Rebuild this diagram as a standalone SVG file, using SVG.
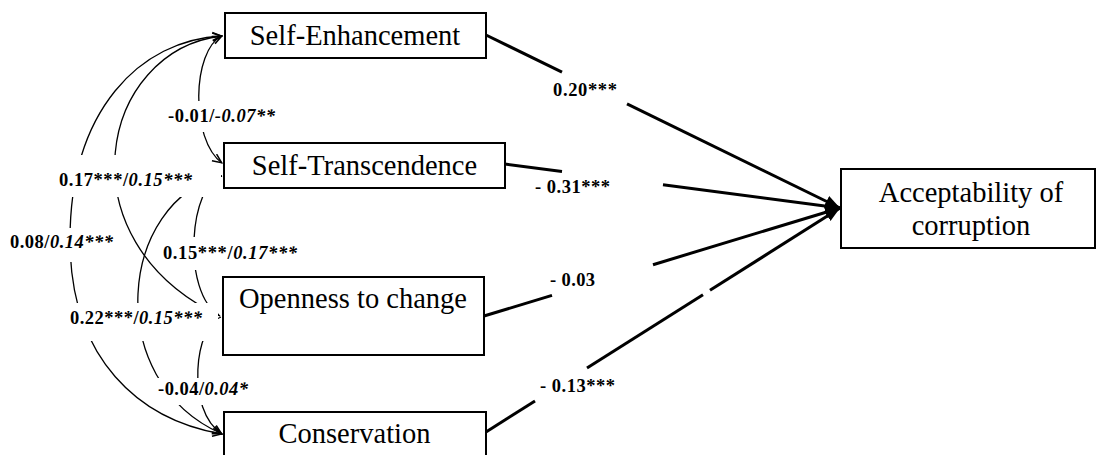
<svg xmlns="http://www.w3.org/2000/svg" width="1097" height="455" viewBox="0 0 1097 455">
<style>
.box{fill:#fff;stroke:#000;stroke-width:2}
.bt{font-family:"Liberation Serif","Times New Roman",serif;font-size:28.5px;fill:#000;text-anchor:middle}
.lb{font-family:"Liberation Serif","Times New Roman",serif;font-size:18.5px;font-weight:bold;fill:#000}
.it{font-style:italic}
.thick{stroke:#000;stroke-width:3;fill:none}
.thin{stroke:#000;stroke-width:1.3;fill:none}
.gap{fill:#fff;stroke:none}
</style>
<defs>
<marker id="ah" markerUnits="userSpaceOnUse" viewBox="0 0 16 14" markerWidth="16" markerHeight="14" refX="15" refY="7" orient="auto"><path d="M0,1 L15,7 L0,13 z" fill="#000"/></marker>
<marker id="av" markerUnits="userSpaceOnUse" viewBox="0 0 12 10" markerWidth="12" markerHeight="10" refX="10.5" refY="5" orient="auto-start-reverse"><path d="M1,1 L10,5 L1,9" fill="none" stroke="#000" stroke-width="1.5"/></marker>
<marker id="as" markerUnits="userSpaceOnUse" viewBox="0 0 6 6" markerWidth="6" markerHeight="6" refX="5.5" refY="3" orient="auto"><path d="M0,0.5 L5.5,3 L0,5.5 z" fill="#000"/></marker>
</defs>
<rect width="1097" height="455" fill="#fff"/>
<g id="connectors">
<g id="paths">
<path class="thick" d="M486,35 L562,72.1"/>
<path class="thick" d="M627,103.9 L840,208" marker-end="url(#ah)"/>
<path class="thick" d="M505,164 L562,171.5"/>
<path class="thick" d="M663,184.7 L840,208" marker-end="url(#ah)"/>
<path class="thick" d="M484,316 L552,295.4"/>
<path class="thick" d="M653,264.7 L840,208" marker-end="url(#ah)"/>
<path class="thick" d="M486,432 L535,401"/>
<path class="thick" d="M587,368.1 L703,294.7"/>
<path class="thick" d="M710,290.3 L840,208" marker-end="url(#ah)"/>
</g>
<g id="correlations">
<path class="thin" d="M222,36 C192,50 190,140 222,163" marker-start="url(#av)" marker-end="url(#av)"/>
<path class="thin" d="M222,36 C100,50 60,240 220,316" marker-start="url(#av)" marker-end="url(#as)"/>
<path class="thin" d="M222,36 C140,40 70,110 70,240 C70,360 140,420 222,434" marker-start="url(#av)" marker-end="url(#av)"/>
<path class="thin" d="M222,176 C190,182 180,292 220,316" marker-end="url(#as)"/>
<path class="thin" d="M222,176 C120,200 100,380 222,434" marker-end="url(#av)"/>
<path class="thin" d="M221,317 C195,325 185,410 222,434" marker-end="url(#av)"/>
</g>
<g id="labels">
<rect class="gap" x="165" y="101" width="115" height="31"/>
<path class="gap" d="M56,155 H200 V168 H221 V197 H56 Z"/>
<rect class="gap" x="8" y="228" width="110" height="34"/>
<rect class="gap" x="160" y="237" width="142" height="33"/>
<rect class="gap" x="66" y="303" width="152" height="38"/>
<rect class="gap" x="156" y="378" width="96" height="27"/>
<text class="lb" x="553" y="96" textLength="64">0.20***</text>
<text class="lb" x="535" y="193" textLength="75">- 0.31***</text>
<text class="lb" x="550" y="286" textLength="45">- 0.03</text>
<text class="lb" x="540" y="392" textLength="75">- 0.13***</text>
<text class="lb" x="168" y="122" textLength="107">-0.01/<tspan class="it">-0.07**</tspan></text>
<text class="lb" x="59" y="186" textLength="133">0.17***/<tspan class="it">0.15***</tspan></text>
<text class="lb" x="10" y="248" textLength="103">0.08/<tspan class="it">0.14***</tspan></text>
<text class="lb" x="163" y="259" textLength="134">0.15***/<tspan class="it">0.17***</tspan></text>
<text class="lb" x="70" y="324" textLength="132">0.22***/<tspan class="it">0.15***</tspan></text>
<text class="lb" x="158" y="395" textLength="90">-0.04/<tspan class="it">0.04*</tspan></text>
</g>
</g>
<g id="self-enhancement">
<rect class="box" x="225" y="13" width="261" height="45"/>
<text class="bt" x="355" y="45">Self-Enhancement</text>
</g>
<g id="self-transcendence">
<rect class="box" x="224" y="143" width="281" height="45"/>
<text class="bt" x="364.5" y="175">Self-Transcendence</text>
</g>
<g id="openness">
<rect class="box" x="223" y="277" width="261" height="78"/>
<text class="bt" x="353" y="308">Openness to change</text>
</g>
<g id="conservation">
<rect class="box" x="224" y="412" width="262" height="60"/>
<text class="bt" x="354.5" y="443">Conservation</text>
</g>
<g id="acceptability">
<rect class="box" x="841" y="169" width="254" height="79"/>
<text class="bt" x="971" y="202">Acceptability of</text>
<text class="bt" x="971" y="235">corruption</text>
</g>
</svg>
